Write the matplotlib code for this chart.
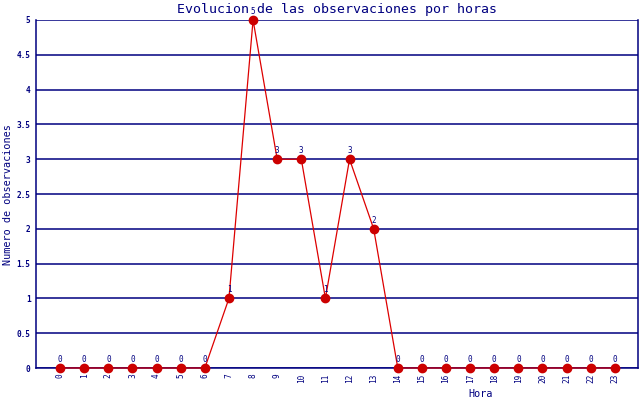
import matplotlib
matplotlib.use("Agg")
import matplotlib.pyplot as plt

hours = list(range(24))
counts = [0, 0, 0, 0, 0, 0, 0, 1, 5, 3, 3, 1, 3, 2, 0, 0, 0, 0, 0, 0, 0, 0, 0, 0]
yticks = [0, 0.5, 1, 1.5, 2, 2.5, 3, 3.5, 4, 4.5, 5]
ytick_labels = ["0", "0.5", "1", "1.5", "2", "2.5", "3", "3.5", "4", "4.5", "5"]
title = "Evolucion de las observaciones por horas"
xlabel = "Hora"
ylabel = "Numero de observaciones"

navy = "#000080"
mono = "DejaVu Sans Mono"

fig = plt.figure(figsize=(6.4, 4.0), dpi=100)
ax = fig.add_axes([36/640, 1-368/400, (638-36)/640, (368-20)/400])
ax.set_xlim(-1, 23.96)
ax.set_ylim(0, 5)

for y in yticks:
    ax.axhline(y, color=navy, lw=1.1, zorder=1)

ax.plot(hours, counts, color="#dd0000", lw=0.9, marker="o", markersize=6,
        markerfacecolor="#cc0000", markeredgecolor="#cc0000", zorder=3, clip_on=False)

for h, c in zip(hours, counts):
    ax.annotate(str(c), (h, c), xytext=(0, 3), textcoords="offset points",
                ha="center", va="bottom", fontsize=5.5, color=navy,
                family=mono, annotation_clip=False, zorder=4)

ax.set_yticks(yticks)
ax.set_yticklabels(ytick_labels, fontsize=5.6, color=navy, family=mono, fontweight="bold")
ax.set_xticks(hours)
ax.set_xticklabels([str(h) for h in hours], rotation=90, fontsize=5.6, color=navy, family=mono)
ax.tick_params(axis="both", length=0)
ax.tick_params(axis="y", pad=4)
ax.tick_params(axis="x", pad=4)

for s in ax.spines.values():
    s.set_color(navy)
    s.set_linewidth(1.1)
ax.spines["top"].set_visible(False)

fig.text(337/640, 1-9/400, title, ha="center", va="center", fontsize=9.5, color=navy, family=mono)
fig.text(481/640, 1-394/400, xlabel, ha="center", va="center", fontsize=7.3, color=navy, family=mono)
fig.text(8/640, 1-195/400, ylabel, ha="center", va="center", rotation=90, fontsize=7.3, color=navy, family=mono)

fig.savefig("out.png", dpi=100, facecolor="white")
